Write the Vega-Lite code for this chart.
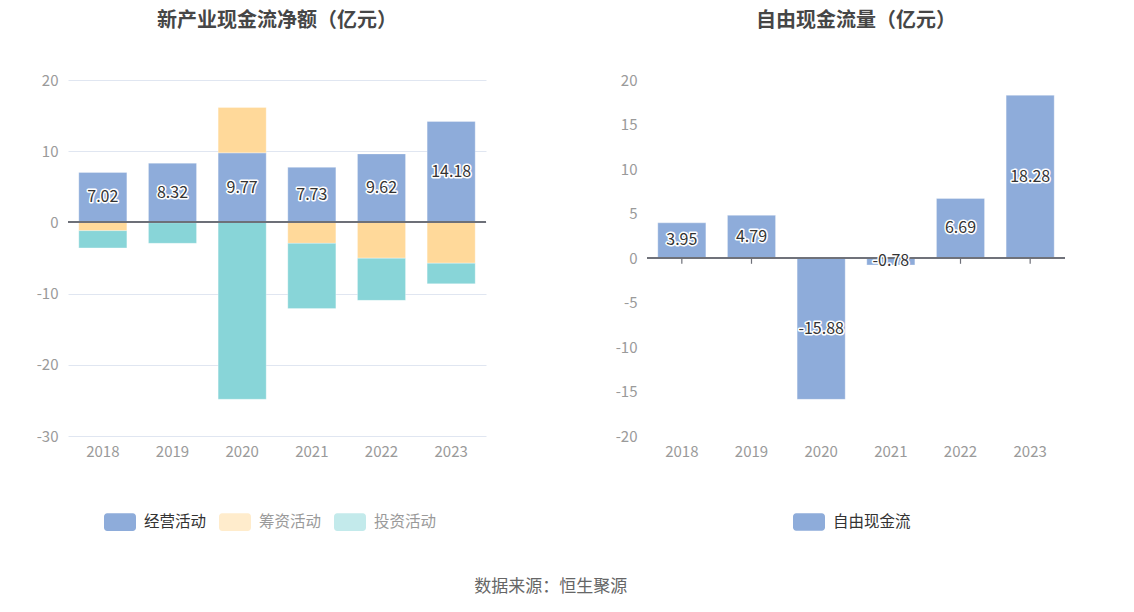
{
  "$schema": "https://vega.github.io/schema/vega-lite/v6.json",
  "padding": {"left": 36, "top": 11, "right": 10, "bottom": 10},
  "background": "white",
  "datasets": {
    "flows": [
      {"year": "2018", "type": "经营活动", "value": 7.02},
      {"year": "2018", "type": "筹资活动", "value": -1.16},
      {"year": "2018", "type": "投资活动", "value": -2.42},
      {"year": "2019", "type": "经营活动", "value": 8.32},
      {"year": "2019", "type": "筹资活动", "value": -0.05},
      {"year": "2019", "type": "投资活动", "value": -2.89},
      {"year": "2020", "type": "经营活动", "value": 9.77},
      {"year": "2020", "type": "筹资活动", "value": 6.37},
      {"year": "2020", "type": "投资活动", "value": -24.84},
      {"year": "2021", "type": "经营活动", "value": 7.73},
      {"year": "2021", "type": "筹资活动", "value": -2.94},
      {"year": "2021", "type": "投资活动", "value": -9.17},
      {"year": "2022", "type": "经营活动", "value": 9.62},
      {"year": "2022", "type": "筹资活动", "value": -5.03},
      {"year": "2022", "type": "投资活动", "value": -5.92},
      {"year": "2023", "type": "经营活动", "value": 14.18},
      {"year": "2023", "type": "筹资活动", "value": -5.73},
      {"year": "2023", "type": "投资活动", "value": -2.89}
    ],
    "fcf": [
      {"year": "2018", "type": "自由现金流", "value": 3.95},
      {"year": "2019", "type": "自由现金流", "value": 4.79},
      {"year": "2020", "type": "自由现金流", "value": -15.88},
      {"year": "2021", "type": "自由现金流", "value": -0.78},
      {"year": "2022", "type": "自由现金流", "value": 6.69},
      {"year": "2023", "type": "自由现金流", "value": 18.28}
    ]
  },
  "title": {
    "text": "数据来源：恒生聚源",
    "orient": "bottom",
    "anchor": "middle",
    "fontSize": 17,
    "fontWeight": "normal",
    "color": "#666666",
    "offset": 48
  },
  "resolve": {"scale": {"color": "independent"}, "legend": {"color": "independent"}},
  "config": {
    "font": "Noto Sans CJK SC",
    "view": {"stroke": null},
    "title": {"fontSize": 20, "fontWeight": "bold", "color": "#464646", "anchor": "middle", "offset": 42},
    "axis": {
      "labelColor": "#9a9a9a",
      "labelFontSize": 15,
      "labelFont": "Noto Sans CJK SC",
      "title": null,
      "domain": false,
      "ticks": false,
      "gridColor": "#e0e6f1",
      "gridWidth": 1
    },
    "legend": {
      "orient": "none",
      "direction": "horizontal",
      "title": null,
      "labelFontSize": 15.5,
      "labelFont": "Noto Sans CJK SC",
      "symbolType": "M-0.8,-0.55 H0.8 A0.2,0.2 0 0 1 1,-0.35 V0.35 A0.2,0.2 0 0 1 0.8,0.55 H-0.8 A0.2,0.2 0 0 1 -1,0.35 V-0.35 A0.2,0.2 0 0 1 -0.8,-0.55 Z",
      "symbolSize": 1024,
      "symbolStrokeWidth": 0,
      "columnPadding": 12,
      "labelOffset": 8
    }
  },
  "hconcat": [
    {
      "title": "新产业现金流净额（亿元）",
      "width": 418,
      "height": 356,
      "data": {"name": "flows"},
      "encoding": {
        "x": {
          "field": "year",
          "type": "ordinal",
          "scale": {"paddingInner": 0.31, "paddingOuter": 0.155},
          "axis": {"labelAngle": 0, "labelPadding": 8, "grid": false}
        }
      },
      "layer": [
        {
          "mark": {"type": "bar", "stroke": "white", "strokeWidth": 0.6, "strokeOpacity": 0.5},
          "encoding": {
            "y": {
              "field": "value",
              "type": "quantitative",
              "stack": "zero",
              "scale": {"domain": [-30, 20], "nice": false},
              "axis": {"values": [-30, -20, -10, 0, 10, 20], "labelPadding": 10, "labelExpr": "'' + datum.value"}
            },
            "color": {
              "field": "type",
              "type": "nominal",
              "sort": ["经营活动", "筹资活动", "投资活动"],
              "scale": {"domain": ["经营活动", "筹资活动", "投资活动"], "range": ["#8eacda", "#ffd99a", "#88d5d8"]},
              "legend": {
                "legendX": 36,
                "legendY": 426,
                "labelColor": {"expr": "datum.value === '经营活动' ? '#333333' : '#9a9a9a'"},
                "symbolOpacity": {"expr": "datum.value === '经营活动' ? 1 : 0.5"}
              }
            },
            "order": {"field": "type", "sort": "descending"}
          }
        },
        {
          "mark": {"type": "rule", "color": "#6e7079", "strokeWidth": 1.2},
          "encoding": {"y": {"datum": 0, "type": "quantitative"}, "x": {"value": 0}, "x2": {"value": 418}}
        },
        {
          "transform": [{"filter": "datum.type === '经营活动'"}],
          "mark": {"type": "text", "fontSize": 16, "stroke": "white", "strokeWidth": 3, "strokeJoin": "round", "fill": "white"},
          "encoding": {
            "y": {"field": "value", "type": "quantitative", "stack": "zero", "bandPosition": 0.5},
            "text": {"field": "value", "type": "nominal"}
          }
        },
        {
          "transform": [{"filter": "datum.type === '经营活动'"}],
          "mark": {"type": "text", "fontSize": 16, "fill": "#333333"},
          "encoding": {
            "y": {"field": "value", "type": "quantitative", "stack": "zero", "bandPosition": 0.5},
            "text": {"field": "value", "type": "nominal"}
          }
        }
      ]
    },
    {
      "title": "自由现金流量（亿元）",
      "width": 418,
      "height": 356,
      "data": {"name": "fcf"},
      "encoding": {
        "x": {
          "field": "year",
          "type": "ordinal",
          "scale": {"paddingInner": 0.31, "paddingOuter": 0.155},
          "axis": {"labelAngle": 0, "labelPadding": 8, "grid": false}
        }
      },
      "layer": [
        {
          "mark": {"type": "rule", "color": "#6e7079", "strokeWidth": 1.2},
          "encoding": {"y": {"datum": 0, "type": "quantitative"}, "y2": {"datum": -0.65}}
        },
        {
          "mark": {"type": "bar", "stroke": "white", "strokeWidth": 0.6, "strokeOpacity": 0.5},
          "encoding": {
            "y": {
              "field": "value",
              "type": "quantitative",
              "scale": {"domain": [-20, 20], "nice": false},
              "axis": {"values": [-20, -15, -10, -5, 0, 5, 10, 15, 20], "labelPadding": 10, "labelExpr": "'' + datum.value"}
            },
            "color": {
              "field": "type",
              "type": "nominal",
              "scale": {"domain": ["自由现金流"], "range": ["#8eacda"]},
              "legend": {"labelColor": "#333333", "legendX": 146, "legendY": 426}
            }
          }
        },
        {
          "mark": {"type": "rule", "color": "#6e7079", "strokeWidth": 1.2},
          "encoding": {"y": {"datum": 0, "type": "quantitative"}, "x": {"value": 0}, "x2": {"value": 418}}
        },
        {
          "mark": {"type": "text", "fontSize": 16, "stroke": "white", "strokeWidth": 3, "strokeJoin": "round", "fill": "white"},
          "encoding": {
            "y": {"field": "value", "type": "quantitative", "stack": "zero", "bandPosition": 0.5},
            "text": {"field": "value", "type": "nominal"}
          }
        },
        {
          "mark": {"type": "text", "fontSize": 16, "fill": "#333333"},
          "encoding": {
            "y": {"field": "value", "type": "quantitative", "stack": "zero", "bandPosition": 0.5},
            "text": {"field": "value", "type": "nominal"}
          }
        }
      ]
    }
  ],
  "spacing": 128
}
